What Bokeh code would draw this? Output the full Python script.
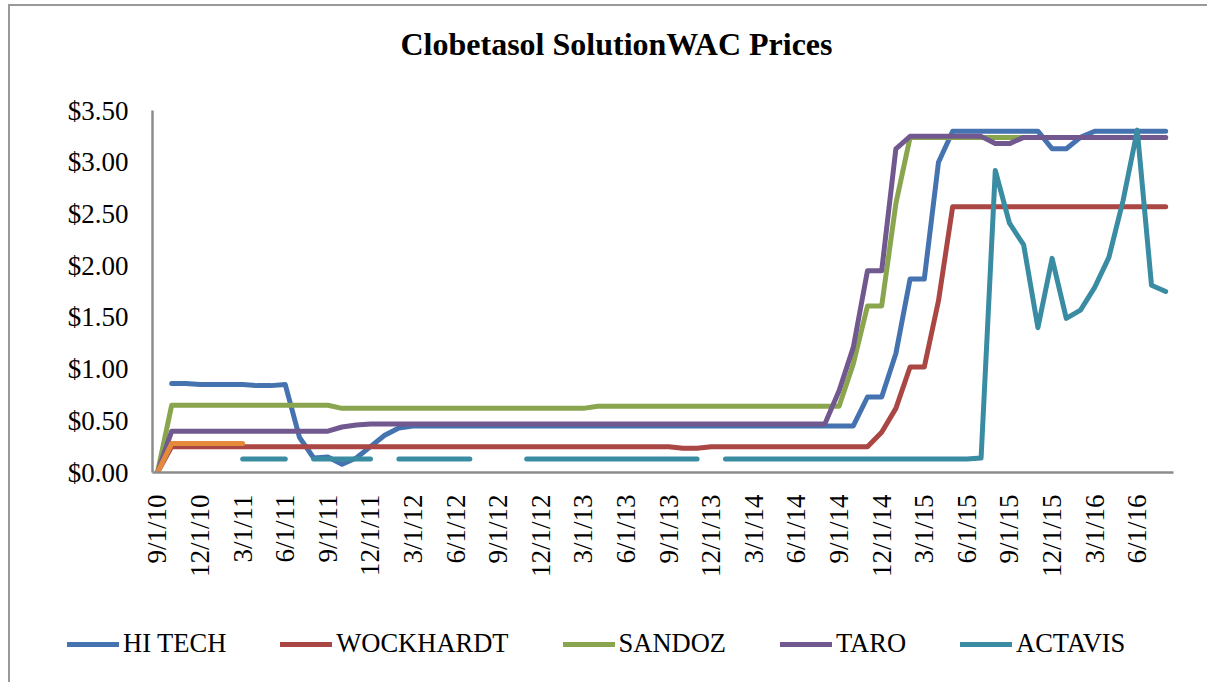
import math
from bokeh.plotting import figure
from bokeh.layouts import column, row
from bokeh.models import (FixedTicker, NumeralTickFormatter, Legend, LegendItem,
                          Range1d, Label)
from bokeh.embed import file_html
from bokeh.resources import INLINE

nan = float("nan")

title_text = "Clobetasol SolutionWAC Prices"

# month index 0 = 9/1/10 ... 71 = 8/1/16
months = list(range(72))
tick_positions = list(range(0, 70, 3))
tick_labels = ["9/1/10", "12/1/10", "3/1/11", "6/1/11", "9/1/11", "12/1/11",
               "3/1/12", "6/1/12", "9/1/12", "12/1/12", "3/1/13", "6/1/13",
               "9/1/13", "12/1/13", "3/1/14", "6/1/14", "9/1/14", "12/1/14",
               "3/1/15", "6/1/15", "9/1/15", "12/1/15", "3/1/16", "6/1/16"]
y_ticks = [0, 0.5, 1.0, 1.5, 2.0, 2.5, 3.0, 3.5]

hi_tech = ([nan, 0.86, 0.86, 0.85, 0.85, 0.85, 0.85, 0.84, 0.84, 0.85,
            0.34, 0.14, 0.15, 0.08, 0.14, 0.25, 0.36, 0.43, 0.45]
           + [0.45] * 31
           + [0.73, 0.73, 1.15, 1.87, 1.87, 3.00]
           + [3.30] * 7
           + [3.13, 3.13, 3.24]
           + [3.30] * 6)

wockhardt = ([0.0] + [0.25] * 36 + [0.235, 0.235] + [0.25] * 12
             + [0.39, 0.62, 1.02, 1.02, 1.66] + [2.57] * 16)

sandoz = ([0.0] + [0.65] * 12 + [0.62] * 18 + [0.64] * 18
          + [1.05, 1.61, 1.61, 2.60] + [3.24] * 19)

taro = ([0.0] + [0.40] * 12 + [0.44, 0.46] + [0.47] * 33
        + [0.79, 1.21, 1.95, 1.95, 3.13] + [3.25] * 6
        + [3.18, 3.18] + [3.24] * 11)

actavis = ([nan] * 6 + [0.13] * 4 + [nan] + [0.13] * 5 + [nan] + [0.13] * 6
           + [nan] * 3 + [0.13] * 13 + [nan] + [0.13] * 18
           + [0.14, 2.92, 2.41, 2.20, 1.40, 2.07, 1.49, 1.57, 1.79, 2.08,
              2.63, 3.31, 1.81, 1.75])

unlabeled = [0.0] + [0.28] * 6 + [nan] * 65

series_names = ["HI TECH", "WOCKHARDT", "SANDOZ", "TARO", "ACTAVIS"]
series_values = [hi_tech, wockhardt, sandoz, taro, actavis]
series_colors = ["#4573B0", "#AA4643", "#89A54E", "#71588F", "#3A8CA2"]

FONT = "Liberation Serif"
W = 1197
HT = 84

# title strip
pt = figure(width=W, height=HT, output_backend="svg", toolbar_location=None,
            x_range=Range1d(0, W), y_range=Range1d(0, HT),
            x_axis_type=None, y_axis_type=None,
            min_border_left=0, min_border_right=0, min_border_top=0,
            min_border_bottom=0)
pt.outline_line_color = None
pt.add_layout(Label(x=390, y=47, text=title_text, text_font=FONT,
                    text_font_size="32px", text_font_style="bold",
                    text_color="#000000", text_baseline="alphabetic",
                    text_align="left"))

# main chart
p = figure(width=W, height=502, output_backend="svg", toolbar_location=None,
           x_range=Range1d(-0.35, 71.55), y_range=Range1d(0, 3.5),
           min_border_left=142, min_border_right=34, min_border_top=20,
           min_border_bottom=120)

p.outline_line_color = None
p.xgrid.visible = False
p.ygrid.visible = False

for vals, color in zip(series_values, series_colors):
    p.line(months, vals, line_color=color, line_width=5,
           line_cap="round", line_join="round")
p.line(months, unlabeled, line_color="#E48A3A", line_width=5,
       line_cap="round", line_join="round")

for ax in (p.xaxis[0], p.yaxis[0]):
    ax.axis_line_color = "#8C8C8C"
    ax.axis_line_width = 2.5
    ax.major_tick_line_color = None
    ax.minor_tick_line_color = None
    ax.major_label_text_font = FONT
    ax.major_label_text_font_size = "27px"
    ax.major_label_text_color = "#000000"

p.xaxis.ticker = FixedTicker(ticks=tick_positions)
p.xaxis.major_label_overrides = {t: l for t, l in zip(tick_positions, tick_labels)}
p.xaxis.major_label_orientation = math.pi / 2
p.xaxis.major_label_standoff = 16

p.yaxis.ticker = FixedTicker(ticks=y_ticks)
p.yaxis.formatter = NumeralTickFormatter(format="$0.00")
p.yaxis.major_label_standoff = 18

# legend strip below the chart
pl = figure(width=W, height=90, output_backend="svg", toolbar_location=None,
            x_range=Range1d(0, 1), y_range=Range1d(0, 1),
            x_axis_type=None, y_axis_type=None,
            min_border_left=0, min_border_right=0, min_border_top=0,
            min_border_bottom=0)
pl.outline_line_color = None
items = []
for name, color in zip(series_names, series_colors):
    r = pl.line(x=[nan], y=[nan], line_color=color, line_width=5, line_cap="round")
    items.append(LegendItem(label=name, renderers=[r]))
legend = Legend(items=items, orientation="horizontal", location=(57, 23),
                glyph_width=52, glyph_height=20, label_standoff=4, spacing=54,
                padding=0, margin=0, border_line_color=None,
                background_fill_alpha=0,
                label_text_font=FONT, label_text_font_size="26.5px",
                label_text_color="#000000")
pl.add_layout(legend, "center")

layout = column(row(pt), p, row(pl), spacing=0,
                styles={"margin-left": "8px", "margin-top": "4px",
                        "border-left": "2px solid #999999",
                        "border-top": "2px solid #999999"})

open("out.html", "w").write(file_html(layout, INLINE))
